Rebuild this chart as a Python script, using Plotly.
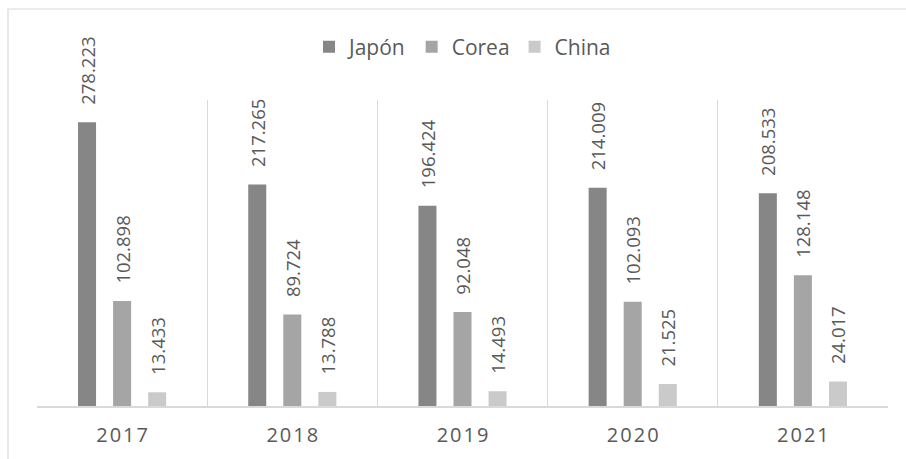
import plotly.graph_objects as go

years = ["2017", "2018", "2019", "2020", "2021"]
year_labels = ["\u200a".join(y) for y in years]
japon = [278.223, 217.265, 196.424, 214.009, 208.533]
corea = [102.898, 89.724, 92.048, 102.093, 128.148]
china = [13.433, 13.788, 14.493, 21.525, 24.017]

series = [("Japón", japon, "#868686"), ("Corea", corea, "#a5a5a5"), ("China", china, "#cacaca")]

FONT = "Open Sans"
TXT = "#595959"

fig = go.Figure()
for name, vals, col in series:
    fig.add_trace(go.Bar(
        name=name, x=years, y=vals, marker=dict(color=col, line=dict(width=0)),
        texttemplate="\u00a0\u00a0\u00a0%{y:.3f}", textposition="outside", textangle=-90,
        textfont=dict(family=FONT, size=18.5, color=TXT), constraintext="none",
        cliponaxis=False, hoverinfo="skip",
    ))

W, H = 906, 459
ml, mr, mt, mb = 37, 18, 100, 53
pw, ph = W - ml - mr, H - mt - mb

def px_x(p):
    return (p - ml) / pw

def px_y(p):
    return (H - mb - p) / ph

fig.update_layout(
    width=W, height=H,
    margin=dict(l=ml, r=mr, t=mt, b=mb, autoexpand=False),
    paper_bgcolor="white", plot_bgcolor="white",
    barmode="group", bargap=0.382, bargroupgap=0.486,
    font=dict(family=FONT, color=TXT),
    legend=dict(orientation="h", x=0.5, xanchor="center", y=px_y(47), yanchor="middle",
                font=dict(family=FONT, size=21, color=TXT), traceorder="normal",
                itemclick=False),
    xaxis=dict(type="category", tickson="boundaries", showgrid=True, gridcolor="#d9d9d9",
               gridwidth=1, showline=True, linecolor="#d9d9d9", linewidth=1.5, ticks="",
               tickvals=years, ticktext=year_labels, ticklabelstandoff=10, automargin=False,
               tickfont=dict(family=FONT, size=20, color=TXT), range=[-0.5, 4.5]),
    yaxis=dict(visible=False, range=[0, 300], showgrid=False, zeroline=False, automargin=False),
    shapes=[dict(type="rect", xref="paper", yref="paper",
                 x0=px_x(8), x1=px_x(915), y0=px_y(470), y1=px_y(9),
                 line=dict(color="#d9d9d9", width=1.2), fillcolor="rgba(0,0,0,0)", layer="below")],
)

fig.write_html("out.html")
